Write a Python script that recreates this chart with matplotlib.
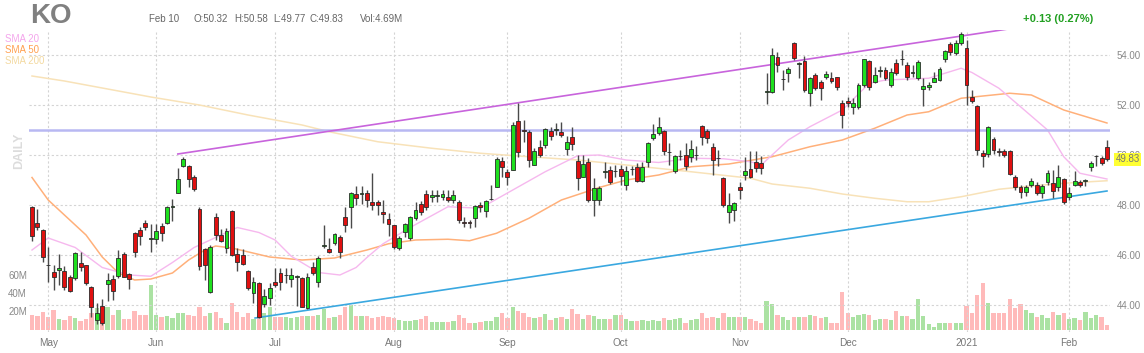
import matplotlib
matplotlib.use("Agg")
from matplotlib import pyplot as plt
import numpy as np

W, H = 1144, 353

# daily candles, Apr 28 2020 .. Feb 10 2021
opens = [47.91, 47.29, 47.0, 45.61, 45.32, 45.4, 45.37, 45.13, 45.07, 45.67,
         45.6, 44.73, 43.4, 43.97, 44.84, 45.03, 45.15, 46.05, 45.23, 46.88,
         47.0, 47.29, 46.66, 46.63, 47.16, 47.28, 47.92, 48.49, 49.56, 49.56,
         49.13, 47.83, 46.23, 44.53, 47.53, 46.8, 46.27, 47.76, 46.04, 46.0,
         45.37, 44.47, 44.89, 44.04, 44.27, 44.91, 45.27, 45.19, 45.03, 45.12,
         45.07, 43.87, 45.53, 44.9, 46.35, 46.24, 46.47, 46.73, 47.53, 47.93,
         48.44, 48.43, 48.47, 48.13, 48.1, 47.7, 47.45, 47.18, 46.27, 46.93,
         46.67, 47.47, 48.03, 48.44, 48.33, 48.36, 48.33, 48.33, 48.2, 48.13,
         47.33, 47.3, 47.47, 47.99, 47.77, 48.23, 48.73, 49.77, 49.33, 49.4,
         51.37, 51.0, 50.93, 49.6, 50.31, 50.4, 50.97, 51.0, 50.93, 50.23,
         50.73, 49.76, 49.11, 49.73, 48.2, 48.2, 49.31, 49.4, 49.35, 49.43,
         48.8, 49.42, 49.51, 48.97, 49.73, 50.69, 50.87, 50.97, 50.1, 49.37,
         49.95, 50.0, 49.9, 49.99, 51.16, 50.97, 50.31, 49.86, 49.07, 47.73,
         47.8, 48.73, 49.2, 49.43, 49.73, 49.67, 52.53, 52.53, 53.91, 53.02,
         53.27, 54.49, 53.66, 53.77, 52.49, 53.2, 52.93, 53.13, 53.07, 53.11,
         52.07, 52.16, 51.91, 51.91, 52.8, 53.77, 52.93, 53.36, 53.4, 52.8,
         53.67, 53.82, 53.6, 53.28, 53.07, 52.65, 52.73, 52.93, 53.0, 53.83,
         54.44, 54.07, 54.47, 54.27, 52.31, 51.96, 50.09, 50.04, 50.63, 50.14,
         50.17, 50.17, 49.13, 48.73, 48.53, 48.8, 48.8, 48.47, 48.93, 48.89,
         48.71, 49.03, 48.31, 48.8, 48.93, 48.96, 49.51, 49.95, 49.87, 50.32]
highs = [47.96, 47.83, 47.05, 46.33, 45.6, 46.04, 45.56, 45.2, 46.13, 46.1,
         45.62, 44.76, 44.07, 44.25, 45.3, 45.2, 46.2, 46.1, 45.28, 46.93,
         47.1, 47.4, 47.22, 47.25, 47.27, 47.95, 48.23, 49.47, 49.91, 49.6,
         49.2, 47.9, 46.27, 46.4, 47.69, 47.03, 47.09, 47.8, 46.27, 46.23,
         45.4, 45.13, 44.92, 44.63, 44.87, 45.47, 45.47, 45.47, 45.47, 45.2,
         45.1, 45.27, 45.73, 45.97, 47.2, 46.67, 46.87, 46.8, 47.93, 48.5,
         48.76, 48.76, 48.6, 49.27, 48.2, 48.2, 47.67, 47.2, 46.75, 47.3,
         47.55, 48.13, 48.15, 48.6, 48.6, 48.6, 48.6, 48.6, 48.6, 48.2,
         47.5, 47.4, 48.0, 48.1, 48.2, 48.8, 49.9, 49.93, 49.43, 51.33,
         52.09, 51.4, 51.0, 50.3, 50.6, 51.07, 51.1, 51.3, 51.33, 50.75,
         51.13, 50.0, 50.0, 49.87, 49.07, 48.75, 49.7, 49.56, 49.6, 49.6,
         49.56, 49.56, 49.67, 49.73, 50.53, 51.24, 51.51, 51.0, 50.47, 50.0,
         50.2, 50.47, 50.6, 50.35, 51.2, 51.03, 50.47, 50.2, 49.13, 48.47,
         48.1, 48.93, 49.93, 50.17, 50.17, 49.96, 53.27, 54.27, 54.13, 53.4,
         53.53, 54.53, 53.73, 53.96, 53.13, 53.27, 53.0, 53.37, 53.33, 53.11,
         52.2, 52.33, 52.27, 52.89, 53.85, 53.8, 53.53, 53.56, 53.53, 53.47,
         53.83, 54.2, 53.73, 53.6, 53.8, 53.07, 52.9, 53.33, 53.5, 54.2,
         54.5, 54.6, 54.93, 54.6, 52.6, 52.0, 50.2, 51.15, 50.7, 50.3,
         50.25, 50.2, 49.2, 48.8, 48.8, 49.07, 48.93, 48.85, 49.4, 49.4,
         49.6, 49.07, 48.7, 49.35, 49.0, 49.05, 49.75, 50.0, 49.95, 50.58]
lows = [46.57, 47.0, 45.7, 44.93, 44.6, 44.8, 44.6, 44.53, 45.0, 45.35,
        44.8, 43.53, 43.24, 43.2, 44.15, 44.2, 45.07, 45.1, 44.65, 45.9,
        46.4, 47.0, 46.13, 46.45, 46.57, 47.25, 47.37, 48.47, 49.5, 48.71,
        48.57, 45.4, 45.0, 44.47, 46.6, 46.53, 46.07, 45.95, 45.37, 45.6,
        44.6, 44.07, 43.49, 43.9, 44.0, 44.73, 44.6, 44.87, 44.73, 43.96,
        43.9, 43.85, 45.2, 44.7, 46.27, 46.07, 46.4, 45.87, 46.93, 47.07,
        48.0, 48.04, 47.93, 47.8, 47.6, 47.27, 46.75, 46.23, 46.2, 46.73,
        46.6, 47.4, 47.6, 47.8, 48.13, 48.1, 48.2, 48.1, 48.07, 47.27,
        47.13, 47.07, 47.1, 47.73, 47.53, 48.2, 48.73, 49.1, 48.8, 49.4,
        49.9, 50.5, 49.53, 49.6, 49.9, 50.3, 50.6, 50.8, 50.7, 50.0,
        50.2, 48.6, 49.1, 48.1, 47.56, 48.0, 49.07, 48.85, 49.1, 48.8,
        48.6, 49.2, 48.93, 48.9, 49.51, 50.6, 50.8, 50.0, 49.6, 49.27,
        49.8, 49.4, 49.73, 49.8, 50.4, 50.47, 49.2, 49.56, 47.9, 47.29,
        47.37, 48.23, 49.0, 49.07, 49.33, 49.24, 52.04, 52.47, 53.33, 52.6,
        52.93, 53.8, 53.07, 52.53, 51.96, 52.6, 52.2, 53.03, 52.87, 52.6,
        51.07, 51.9, 51.64, 51.85, 52.73, 52.6, 52.87, 53.1, 53.0, 52.73,
        53.2, 53.6, 53.0, 53.1, 53.0, 51.96, 52.6, 52.9, 52.95, 53.7,
        54.0, 54.0, 54.4, 52.0, 52.07, 50.0, 49.53, 49.9, 50.05, 49.95,
        49.9, 49.2, 48.6, 48.3, 48.35, 48.7, 48.4, 48.3, 48.8, 48.3,
        48.55, 48.05, 48.2, 48.75, 48.7, 48.75, 49.35, 49.55, 49.6, 49.77]
closes = [46.76, 47.11, 45.91, 45.59, 45.13, 45.46, 44.73, 44.57, 46.09, 45.52,
          44.87, 43.93, 43.67, 43.27, 45.0, 44.55, 45.87, 45.13, 45.03, 46.11,
          46.75, 47.12, 46.68, 46.97, 46.89, 47.92, 47.95, 49.03, 49.85, 49.03,
          48.63, 45.56, 45.6, 46.33, 46.8, 46.57, 46.97, 46.0, 45.73, 45.63,
          44.69, 44.92, 43.53, 44.36, 44.67, 44.8, 44.93, 45.21, 45.2, 45.14,
          43.93, 45.13, 45.3, 45.87, 46.38, 46.13, 46.83, 46.13, 47.2, 48.47,
          48.27, 48.46, 48.2, 47.99, 48.0, 47.66, 47.25, 46.33, 46.67, 47.23,
          47.51, 47.8, 47.73, 47.93, 48.4, 48.37, 48.43, 48.2, 48.4, 47.4,
          47.3, 47.29, 47.96, 47.93, 48.16, 48.25, 49.83, 49.51, 49.13, 51.2,
          50.13, 50.98, 49.8, 50.16, 50.0, 51.03, 50.76, 51.03, 50.8, 50.53,
          50.44, 49.07, 49.64, 48.2, 48.69, 48.69, 49.34, 48.93, 49.37, 49.16,
          49.37, 49.44, 48.97, 49.51, 50.47, 50.83, 51.11, 50.17, 50.12, 49.96,
          49.97, 49.56, 50.24, 50.01, 50.73, 50.67, 49.8, 49.88, 48.0, 48.0,
          48.07, 48.6, 49.36, 49.13, 49.47, 49.47, 52.57, 54.0, 53.6, 53.05,
          53.43, 53.87, 53.68, 52.6, 53.09, 52.67, 52.67, 53.24, 52.97, 52.71,
          51.6, 52.07, 52.07, 52.8, 53.83, 52.73, 53.2, 53.38, 53.07, 53.33,
          53.29, 53.84, 53.11, 53.3, 53.73, 52.76, 52.78, 53.07, 53.43, 54.17,
          54.13, 54.47, 54.84, 52.8, 52.17, 50.2, 49.96, 51.11, 50.2, 50.12,
          50.0, 49.24, 48.71, 48.53, 48.71, 48.97, 48.49, 48.76, 49.29, 48.57,
          49.13, 48.13, 48.47, 48.97, 48.8, 48.98, 49.67, 49.97, 49.69, 49.83]
# volume in millions
volumes = [16.7, 15.6, 20, 14, 22, 12.6, 11, 15.6, 13, 10.4,
           12.6, 18.5, 24, 22, 26, 16.7, 22, 11.8, 11.8, 21,
           16.7, 16.7, 50, 16.7, 15, 15.6, 13.7, 19, 18.5, 16.7,
           16, 26, 15.6, 18.5, 20.4, 13, 8, 29.6, 20.4, 14.8,
           18.5, 11.9, 15.6, 18.5, 26, 14.8, 14.8, 14.8, 13, 14.8,
           15.6, 15.6, 15.6, 16.7, 23, 13, 14.8, 16.7, 26, 27.8,
           15.6, 15.6, 15.6, 13, 14.8, 15.6, 14.1, 13, 11.1, 10.4,
           10.4, 11.1, 11.9, 16, 9.3, 9.3, 9.3, 8.5, 10, 16.3,
           13, 8.1, 8.1, 9.3, 10.4, 10, 14.8, 18.5, 13, 25.2,
           21.5, 19.3, 14.8, 13, 14.1, 17.8, 11.1, 13, 14.1, 11.9,
           23, 17.8, 11.9, 16.3, 15.6, 11.9, 12.6, 11.9, 16.3, 16.3,
           12.6, 10.4, 10.4, 11.1, 10.4, 11.1, 10.4, 13, 11.1, 11.9,
           13, 8.1, 11.1, 11.9, 18.5, 13, 14.1, 13, 18.5, 14.1,
           14.8, 14.8, 14.1, 11.85, 10.4, 8.15, 32.6, 28.9, 16.7, 14.8,
           11.1, 14.8, 14.1, 14.1, 16.7, 15.6, 13, 14.1, 8.15, 7.4,
           42.6, 18.5, 14.8, 16.7, 17.8, 16.3, 11.1, 11.85, 11.85, 11.1,
           21.1, 15.6, 15.6, 12.6, 34, 15.6, 6.7, 3, 8.1, 7.4,
           7.4, 7.4, 7.4, 26.7, 19.3, 39, 51.9, 29.6, 18.5, 18.5,
           18.5, 34, 24, 28.9, 22.2, 19.3, 14.8, 16.7, 13, 20.4,
           16.7, 18.5, 11.85, 13, 11.1, 20.4, 13, 17, 14.8, 5.6]

sma20_idx = [0, 3, 8, 13, 18, 22, 26, 30, 34, 38, 42, 45, 48, 53, 57, 60, 62, 65,
             70, 77, 83, 89, 95, 101, 105, 110, 116, 122, 128, 133, 135, 140, 144,
             150, 155, 158, 166, 172, 174, 179, 183, 188, 191, 194, 199]
sma20_val = [46.2, 46.68, 46.3, 45.5, 45.2, 45.15, 45.7, 46.3, 46.7, 47.1, 46.9,
             46.6, 45.95, 45.3, 45.2, 45.5, 45.9, 46.45, 47.1, 47.93, 47.87, 48.6,
             49.33, 49.97, 50.0, 49.8, 49.7, 49.87, 49.85, 49.73, 49.6, 50.6,
             51.13, 51.8, 52.87, 53.0, 53.07, 53.47, 53.3, 52.67, 51.93, 51.0,
             49.93, 49.27, 49.04]
sma50_idx = [0, 3, 7, 10, 13, 16, 19, 22, 26, 29, 32, 34, 37, 44, 50, 56, 62, 66,
             71, 77, 81, 86, 92, 98, 105, 110, 116, 122, 129, 137, 144, 150, 156,
             162, 166, 172, 181, 185, 191, 199]
sma50_val = [49.1, 48.2, 47.4, 46.8, 45.92, 45.28, 45.0, 45.04, 45.28, 45.8, 46.2,
             46.36, 46.28, 45.92, 45.8, 45.88, 46.2, 46.45, 46.6, 46.63, 46.57,
             46.87, 47.47, 48.2, 48.7, 49.0, 49.2, 49.53, 49.64, 49.93, 50.33,
             50.6, 51.07, 51.6, 51.73, 52.27, 52.47, 52.4, 51.8, 51.28]
sma200_idx = [0, 6, 13, 22, 31, 40, 50, 55, 64, 74, 83, 92, 101, 110, 122, 133,
              137, 144, 150, 156, 162, 166, 172, 179, 185, 191, 199]
sma200_val = [53.16, 52.96, 52.68, 52.32, 52.0, 51.6, 51.2, 50.93, 50.53, 50.27,
              50.07, 49.93, 49.8, 49.6, 49.33, 49.07, 48.84, 48.67, 48.44, 48.27,
              48.13, 48.13, 48.33, 48.63, 48.76, 48.87, 48.97]

# drawn lines
upper_trend = ([27, 185], [50.04, 55.18])
lower_trend = ([41.3, 199], [43.48, 48.56])
resistance = 51.0

month_idx = [3, 23, 45, 67, 88, 109, 131, 151, 173, 192]
month_labels = ["May", "Jun", "Jul", "Aug", "Sep", "Oct", "Nov", "Dec", "2021", "Feb"]
price_ticks = [44, 46, 48, 50, 52, 54]

plt.rcParams['font.family'] = ['Liberation Sans', 'DejaVu Sans']


def px(x, y):
    return x / W, 1 - y / H


fig = plt.figure(figsize=(W / 100, H / 100), dpi=100)
ax = fig.add_axes([29 / W, 1 - 332 / H, (1110 - 29) / W, (332 - 30) / H])
ax2 = ax.twinx()
ax2.set_zorder(1)
ax.set_zorder(2)
ax.patch.set_visible(False)

x = np.arange(len(closes))
o = np.array(opens)
c = np.array(closes)
up = c >= o

# volume
ax2.bar(x, volumes, width=0.8, color=np.where(up, '#abe2a3', '#ffbaba'), linewidth=0)
ax2.set_ylim(-2.2, 333.3)
ax2.axis('off')

# grid
grid_kw = dict(color='#d4d4d4', ls=(0, (2, 2)), lw=0.8, zorder=0.5)
for m in month_idx:
    ax.axvline(m, **grid_kw)
for p in price_ticks:
    ax.axhline(p, **grid_kw)

# moving averages
ax.plot(sma200_idx, sma200_val, color='#f8e2b8', lw=1.1, zorder=1)
ax.plot(sma50_idx, sma50_val, color='#ffb07a', lw=1.1, zorder=1.1)
ax.plot(sma20_idx, sma20_val, color='#f6b8ee', lw=1.0, zorder=1.2)

# drawings
ax.axhline(resistance, color='#b8b8f2', lw=1.8, zorder=1.3)
ax.plot(*upper_trend, color='#c864dc', lw=1.2, zorder=1.4)
ax.plot(*lower_trend, color='#3aa8e0', lw=1.2, zorder=1.4)

# candles
ax.vlines(x, lows, highs, color='#4a4a4a', lw=1.0, zorder=3)
body_lo = np.minimum(o, c)
body_h = np.maximum(np.abs(c - o), 0.025)
ax.bar(x, body_h, bottom=body_lo, width=0.72,
       color=np.where(up, '#1ee01e', '#e01010'),
       edgecolor='#2a2a2a', linewidth=0.6, zorder=4)

ax.set_xlim(-0.555, 199.56)
ax.set_ylim(42.92, 55.0)
for s in ax.spines.values():
    s.set_visible(False)

ax.set_xticks(month_idx)
ax.set_xticklabels(month_labels)
ax.yaxis.tick_right()
ax.set_yticks(price_ticks)
ax.set_yticklabels([f"{p:.2f}" for p in price_ticks])
ax.tick_params(axis='x', length=0, pad=4, labelsize=7.2, labelcolor='#777777')
ax.tick_params(axis='y', length=0, pad=5, labelsize=7, labelcolor='#888888')

# last price tag
ax.annotate(f"{closes[-1]:.2f}", xy=(1.0, closes[-1]), xycoords=('axes fraction', 'data'),
            xytext=(4, 0), textcoords='offset points', va='center', ha='left',
            fontsize=7, color='#777777', zorder=10, annotation_clip=False,
            bbox=dict(boxstyle='square,pad=0.15', fc='#ffff33', ec='none'))

# header
fig.text(*px(30, 23), "KO", fontsize=20, fontweight='bold', color='#808080', va='baseline')
fig.text(*px(149, 22.5), "Feb 10", fontsize=7, color='#666666', va='baseline')
for xpos, txt in [(194, f"O:{opens[-1]:.2f}"), (234, f"H:{highs[-1]:.2f}"),
                  (273, f"L:{lows[-1]:.2f}"), (310, f"C:{closes[-1]:.2f}"),
                  (360, f"Vol:{4.69:.2f}M")]:
    fig.text(*px(xpos, 22.5), txt, fontsize=7, color='#666666', va='baseline')
fig.text(*px(1023, 19), "+0.13 (0.27%)", fontsize=8, fontweight='bold',
         color='#22a022', va='center')

# legend labels
fig.text(*px(5, 42), "SMA 20", fontsize=7, color='#f4a6ec', va='baseline')
fig.text(*px(5, 53), "SMA 50", fontsize=7, color='#ffa050', va='baseline')
fig.text(*px(5, 64), "SMA 200", fontsize=7, color='#f3d9a0', va='baseline')
fig.text(*px(19, 151), "DAILY", fontsize=9, fontweight='bold', color='#dcdcdc',
         rotation=90, ha='center', va='center')

# volume scale labels
for yv, lab in [(276, "60M"), (294, "40M"), (312, "20M")]:
    fig.text(*px(27, yv), lab, fontsize=7, color='#888888', ha='right', va='center')

fig.savefig("out.png", dpi=100)
